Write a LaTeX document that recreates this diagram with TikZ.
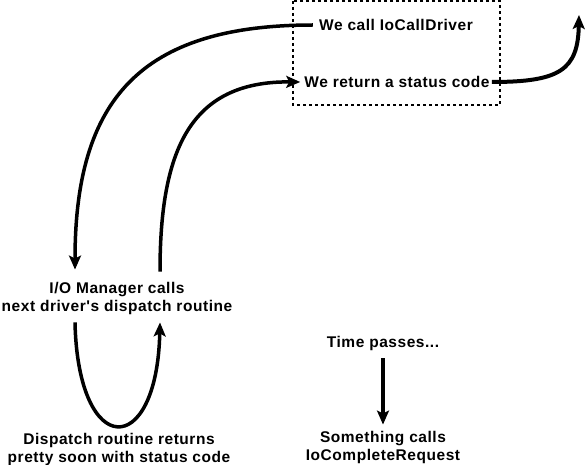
\documentclass[tikz,border=0pt]{standalone}
\usepackage{fontspec}
\setmainfont{Liberation Sans}[Ligatures=TeXOff,LetterSpace=3.5]
\usetikzlibrary{arrows.meta}
\begin{document}
\begin{tikzpicture}[x=1pt,y=-1pt,
  lbl/.style={font=\bfseries\fontsize{15.5}{18}\selectfont, align=center, inner sep=0pt},
  arr/.style={line width=3.5pt, -{Stealth[length=14pt,width=12pt,inset=3pt]}},
  box/.style={line width=2pt, dash pattern=on 3pt off 3pt}]
\useasboundingbox (0,0) rectangle (587,465);
\draw[box] (293,1) rectangle (500,105);
\node[lbl] (call) at (396,25) {We call IoCallDriver};
\node[lbl] (ret) at (397,82) {We return a status code};
\node[lbl] (io) at (117,298) {I/O Manager calls\\next driver's dispatch routine};
\node[lbl] (disp) at (119,449) {Dispatch routine returns\\pretty soon with status code};
\node[lbl] (time) at (383,343) {Time passes...};
\node[lbl] (comp) at (383,447) {Something calls\\IoCompleteRequest};
\coordinate (out) at (579,15);
% IoCallDriver -> I/O manager
\draw[arr] ([shift={(-6,0)}]call.west) .. controls (140,25) and (75,100) .. ([shift={(-42,-12)}]io.north);
% loop: dispatch routine and back
\draw[arr] ([shift={(-42,8)}]io.south) .. controls (78,460) and (157,460) .. ([shift={(43,8)}]io.south);
% back up to return
\draw[arr] ([shift={(43,-10)}]io.north) .. controls (160,150) and (190,81) .. ([shift={(-4,0)}]ret.west);
% return status out
\draw[arr, line width=4pt] ([shift={(2,0)}]ret.east) .. controls (560,82) and (578,70) .. (out);
% time passes
\draw[arr] ([shift={(0,8)}]time.south) -- ([shift={(0,-6)}]comp.north);
\end{tikzpicture}
\end{document}
